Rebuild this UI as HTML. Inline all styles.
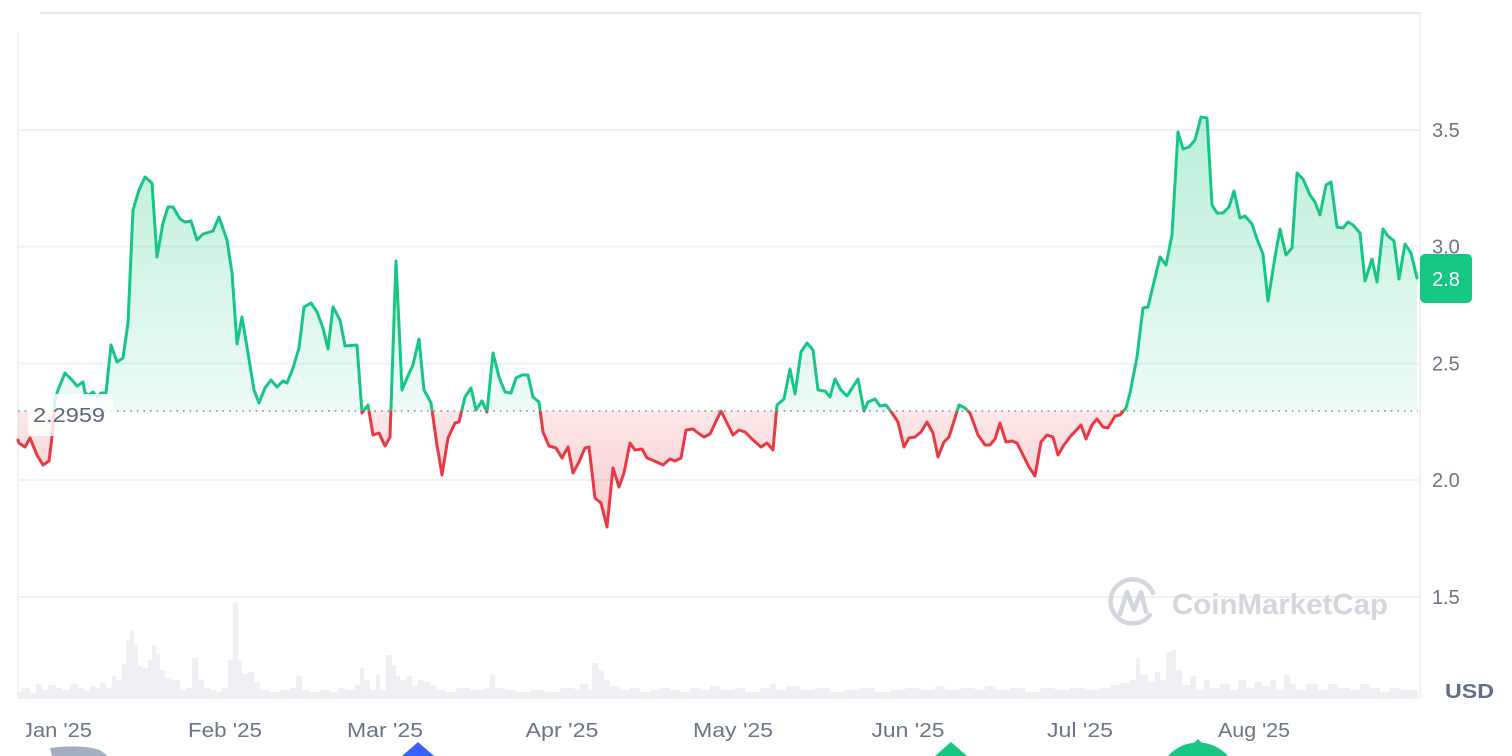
<!DOCTYPE html>
<html><head><meta charset="utf-8"><style>
html,body{margin:0;padding:0;background:#fff;width:1512px;height:756px;overflow:hidden;}
svg{display:block;font-family:"Liberation Sans",sans-serif;}
</style></head><body>
<svg width="1512" height="756" viewBox="0 0 1512 756" xmlns="http://www.w3.org/2000/svg">
<defs>
<linearGradient id="gg" gradientUnits="userSpaceOnUse" x1="0" y1="117" x2="0" y2="411">
<stop offset="0" stop-color="#16c784" stop-opacity="0.30"/>
<stop offset="1" stop-color="#16c784" stop-opacity="0.07"/>
</linearGradient>
<linearGradient id="rg" gradientUnits="userSpaceOnUse" x1="0" y1="411" x2="0" y2="527">
<stop offset="0" stop-color="#ea3943" stop-opacity="0.12"/>
<stop offset="1" stop-color="#ea3943" stop-opacity="0.26"/>
</linearGradient>
<clipPath id="top"><rect x="0" y="0" width="1512" height="410.9"/></clipPath>
<clipPath id="bot"><rect x="0" y="410.9" width="1512" height="345"/></clipPath>
<clipPath id="lab"><rect x="26" y="700" width="1480" height="56"/></clipPath>
<clipPath id="all"><rect x="0" y="0" width="1512" height="756"/></clipPath>
</defs>
<g clip-path="url(#all)">
<!-- frame lines -->
<line x1="40" y1="13" x2="1420" y2="13" stroke="#e6e8ec" stroke-width="2"/>
<line x1="18" y1="32" x2="18" y2="699" stroke="#f2f3f5" stroke-width="2"/>
<line x1="1420" y1="13" x2="1420" y2="699" stroke="#eff2f5" stroke-width="2"/>

<!-- grid -->
<g stroke="#eff2f5" stroke-width="2">
<line x1="18" y1="130" x2="1420" y2="130"/>
<line x1="18" y1="246.5" x2="1420" y2="246.5"/>
<line x1="18" y1="363.5" x2="1420" y2="363.5"/>
<line x1="18" y1="480" x2="1420" y2="480"/>
<line x1="18" y1="597" x2="1420" y2="597"/>
</g>

<!-- volume -->
<path fill="#eef0f3" d="M18,699 V692 H22 V688 H30 V693 H36 V684 H42 V690 H48 V685 H56 V688 H62 V690 H70 V684 H78 V688 H84 V691 H90 V686 H96 V688 H100 V683 H106 V688 H112 V676 H116 V680 H122 V664 H126 V640 H130 V630 H134 V645 H138 V666 H143 V668 H148 V660 H152 V645 H156 V654 H160 V670 H165 V678 H172 V680 H180 V690 H186 V688 H192 V658 H198 V680 H204 V688 H210 V690 H216 V692 H222 V688 H228 V660 H233 V603 H238 V660 H242 V674 H248 V672 H254 V682 H260 V690 H270 V692 H280 V690 H290 V688 H296 V676 H302 V690 H310 V692 H320 V690 H330 V692 H338 V688 H345 V690 H355 V685 H360 V668 H364 V680 H370 V690 H376 V675 H380 V690 H386 V655 H392 V665 H396 V676 H400 V680 H406 V676 H412 V686 H418 V680 H424 V682 H430 V685 H436 V690 H446 V692 H456 V688 H470 V690 H485 V688 H490 V675 H495 V688 H505 V690 H515 V692 H530 V690 H545 V692 H560 V688 H575 V690 H580 V684 H588 V690 H592 V663 H598 V670 H604 V680 H610 V686 H620 V690 H630 V688 H640 V692 H650 V690 H660 V688 H670 V690 H680 V692 H690 V688 H700 V690 H710 V686 H720 V690 H735 V688 H745 V692 H760 V688 H770 V684 H776 V690 H786 V686 H800 V690 H815 V688 H830 V692 H845 V690 H860 V688 H875 V692 H890 V690 H905 V688 H920 V690 H935 V686 H945 V690 H960 V688 H975 V690 H985 V686 H995 V690 H1010 V688 H1025 V692 H1040 V688 H1055 V690 H1070 V688 H1085 V690 H1100 V688 H1110 V685 H1120 V683 H1130 V680 H1136 V658 H1140 V675 H1148 V682 H1155 V672 H1160 V680 H1166 V652 H1172 V650 H1176 V670 H1182 V685 H1190 V676 H1196 V690 H1204 V680 H1210 V688 H1220 V684 H1230 V690 H1238 V680 H1246 V688 H1254 V682 H1262 V686 H1270 V680 H1276 V690 H1284 V675 H1290 V684 H1296 V690 H1306 V684 H1318 V690 H1328 V684 H1338 V688 H1350 V690 H1360 V684 H1370 V688 H1380 V692 H1390 V688 H1400 V690 H1418 V699 Z"/>

<!-- watermark -->
<path d="M1150,615 A22,22 0 1 1 1153,593" fill="none" stroke="#d3d6df" stroke-width="4.5" stroke-linecap="round"/>
<path d="M1120,614 L1127,592 L1134,610 L1141,592 L1146,612" fill="none" stroke="#d3d6df" stroke-width="4.5" stroke-linejoin="round" stroke-linecap="round"/>
<text x="1172" y="614" font-size="29" font-weight="bold" fill="#d3d6df" textLength="216" lengthAdjust="spacingAndGlyphs">CoinMarketCap</text>

<!-- price area -->
<path id="area" clip-path="url(#top)" fill="url(#gg)" d="M18,410.9 L18,440 19,443 25,447 30,438 37,455 43,465 49,461 52,437 55,400 58,390 65,373 72,380 77,386 83,382 85,393 89,395 93,392 97,397 101,393 106,393 111,345 117,362 123,358 128,323 133,210 139,190 145,177 152,183 157,257 163,223 168,207 173,207 180,219 185,222 191,221 197,240 203,234 213,231 219,217 227,240 232,273 237,344 242,317 248,353 254,390 259,403 265,388 271,380 277,387 283,381 287,383 293,368 299,348 304,307 311,303 317,312 323,328 328,349 333,307 340,320 345,346 357,345 362,413 368,405 373,435 379,433 385,446 390,437 396,261 402,390 407,378 413,365 419,339 424,390 431,403 437,445 442,475 448,438 455,423 459,422 465,397 471,388 476,410 482,401 487,412 493,353 499,377 505,392 511,393 516,378 522,375 528,375 533,397 539,402 543,432 549,446 556,448 562,458 568,447 573,473 579,462 585,448 589,447 595,498 601,503 607,527 613,468 619,487 624,473 630,443 635,450 642,449 647,458 657,462 663,465 670,459 675,461 681,458 686,430 693,429 698,433 704,437 710,434 721,411 727,423 733,435 739,430 745,432 753,440 761,447 767,443 773,450 777,405 784,399 790,369 795,394 801,352 807,343 813,350 818,390 825,391 830,397 835,379 841,390 847,396 858,379 864,411 868,402 875,399 880,406 886,405 892,413 898,422 904,447 909,438 915,437 921,432 927,422 933,433 938,457 944,442 949,437 959,405 965,408 970,413 978,435 985,445 990,445 995,439 1000,423 1006,442 1012,441 1017,443 1023,455 1029,467 1035,476 1041,442 1047,435 1053,437 1058,455 1064,445 1070,437 1081,425 1086,439 1092,425 1097,419 1103,427 1108,428 1115,416 1120,415 1126,408 1130,393 1137,357 1143,308 1148,307 1160,257 1166,265 1172,235 1178,132 1183,149 1189,147 1195,140 1201,117 1207,118 1212,205 1217,213 1223,213 1229,207 1234,191 1240,218 1245,216 1252,224 1257,239 1263,254 1268,301 1275,257 1280,229 1286,255 1292,248 1297,173 1303,179 1310,195 1315,202 1320,215 1326,185 1331,182 1337,227 1343,228 1348,222 1353,225 1360,233 1365,281 1372,259 1377,282 1383,229 1388,236 1394,241 1399,279 1405,244 1411,253 1417,278 L1417,410.9 Z"/>
<path clip-path="url(#bot)" fill="url(#rg)" d="M18,410.9 L18,440 19,443 25,447 30,438 37,455 43,465 49,461 52,437 55,400 58,390 65,373 72,380 77,386 83,382 85,393 89,395 93,392 97,397 101,393 106,393 111,345 117,362 123,358 128,323 133,210 139,190 145,177 152,183 157,257 163,223 168,207 173,207 180,219 185,222 191,221 197,240 203,234 213,231 219,217 227,240 232,273 237,344 242,317 248,353 254,390 259,403 265,388 271,380 277,387 283,381 287,383 293,368 299,348 304,307 311,303 317,312 323,328 328,349 333,307 340,320 345,346 357,345 362,413 368,405 373,435 379,433 385,446 390,437 396,261 402,390 407,378 413,365 419,339 424,390 431,403 437,445 442,475 448,438 455,423 459,422 465,397 471,388 476,410 482,401 487,412 493,353 499,377 505,392 511,393 516,378 522,375 528,375 533,397 539,402 543,432 549,446 556,448 562,458 568,447 573,473 579,462 585,448 589,447 595,498 601,503 607,527 613,468 619,487 624,473 630,443 635,450 642,449 647,458 657,462 663,465 670,459 675,461 681,458 686,430 693,429 698,433 704,437 710,434 721,411 727,423 733,435 739,430 745,432 753,440 761,447 767,443 773,450 777,405 784,399 790,369 795,394 801,352 807,343 813,350 818,390 825,391 830,397 835,379 841,390 847,396 858,379 864,411 868,402 875,399 880,406 886,405 892,413 898,422 904,447 909,438 915,437 921,432 927,422 933,433 938,457 944,442 949,437 959,405 965,408 970,413 978,435 985,445 990,445 995,439 1000,423 1006,442 1012,441 1017,443 1023,455 1029,467 1035,476 1041,442 1047,435 1053,437 1058,455 1064,445 1070,437 1081,425 1086,439 1092,425 1097,419 1103,427 1108,428 1115,416 1120,415 1126,408 1130,393 1137,357 1143,308 1148,307 1160,257 1166,265 1172,235 1178,132 1183,149 1189,147 1195,140 1201,117 1207,118 1212,205 1217,213 1223,213 1229,207 1234,191 1240,218 1245,216 1252,224 1257,239 1263,254 1268,301 1275,257 1280,229 1286,255 1292,248 1297,173 1303,179 1310,195 1315,202 1320,215 1326,185 1331,182 1337,227 1343,228 1348,222 1353,225 1360,233 1365,281 1372,259 1377,282 1383,229 1388,236 1394,241 1399,279 1405,244 1411,253 1417,278 L1417,410.9 Z"/>

<!-- baseline -->
<line x1="18" y1="410.9" x2="1418" y2="410.9" stroke="#8a93a4" stroke-width="1.6" stroke-dasharray="1.6,5"/>

<!-- line stroke -->
<polyline fill="none" stroke-width="3" stroke-linejoin="round" stroke-linecap="round" stroke="#16c784" clip-path="url(#top)" points="18,440 19,443 25,447 30,438 37,455 43,465 49,461 52,437 55,400 58,390 65,373 72,380 77,386 83,382 85,393 89,395 93,392 97,397 101,393 106,393 111,345 117,362 123,358 128,323 133,210 139,190 145,177 152,183 157,257 163,223 168,207 173,207 180,219 185,222 191,221 197,240 203,234 213,231 219,217 227,240 232,273 237,344 242,317 248,353 254,390 259,403 265,388 271,380 277,387 283,381 287,383 293,368 299,348 304,307 311,303 317,312 323,328 328,349 333,307 340,320 345,346 357,345 362,413 368,405 373,435 379,433 385,446 390,437 396,261 402,390 407,378 413,365 419,339 424,390 431,403 437,445 442,475 448,438 455,423 459,422 465,397 471,388 476,410 482,401 487,412 493,353 499,377 505,392 511,393 516,378 522,375 528,375 533,397 539,402 543,432 549,446 556,448 562,458 568,447 573,473 579,462 585,448 589,447 595,498 601,503 607,527 613,468 619,487 624,473 630,443 635,450 642,449 647,458 657,462 663,465 670,459 675,461 681,458 686,430 693,429 698,433 704,437 710,434 721,411 727,423 733,435 739,430 745,432 753,440 761,447 767,443 773,450 777,405 784,399 790,369 795,394 801,352 807,343 813,350 818,390 825,391 830,397 835,379 841,390 847,396 858,379 864,411 868,402 875,399 880,406 886,405 892,413 898,422 904,447 909,438 915,437 921,432 927,422 933,433 938,457 944,442 949,437 959,405 965,408 970,413 978,435 985,445 990,445 995,439 1000,423 1006,442 1012,441 1017,443 1023,455 1029,467 1035,476 1041,442 1047,435 1053,437 1058,455 1064,445 1070,437 1081,425 1086,439 1092,425 1097,419 1103,427 1108,428 1115,416 1120,415 1126,408 1130,393 1137,357 1143,308 1148,307 1160,257 1166,265 1172,235 1178,132 1183,149 1189,147 1195,140 1201,117 1207,118 1212,205 1217,213 1223,213 1229,207 1234,191 1240,218 1245,216 1252,224 1257,239 1263,254 1268,301 1275,257 1280,229 1286,255 1292,248 1297,173 1303,179 1310,195 1315,202 1320,215 1326,185 1331,182 1337,227 1343,228 1348,222 1353,225 1360,233 1365,281 1372,259 1377,282 1383,229 1388,236 1394,241 1399,279 1405,244 1411,253 1417,278"/>
<polyline fill="none" stroke-width="3" stroke-linejoin="round" stroke-linecap="round" stroke="#ea3943" clip-path="url(#bot)" points="18,440 19,443 25,447 30,438 37,455 43,465 49,461 52,437 55,400 58,390 65,373 72,380 77,386 83,382 85,393 89,395 93,392 97,397 101,393 106,393 111,345 117,362 123,358 128,323 133,210 139,190 145,177 152,183 157,257 163,223 168,207 173,207 180,219 185,222 191,221 197,240 203,234 213,231 219,217 227,240 232,273 237,344 242,317 248,353 254,390 259,403 265,388 271,380 277,387 283,381 287,383 293,368 299,348 304,307 311,303 317,312 323,328 328,349 333,307 340,320 345,346 357,345 362,413 368,405 373,435 379,433 385,446 390,437 396,261 402,390 407,378 413,365 419,339 424,390 431,403 437,445 442,475 448,438 455,423 459,422 465,397 471,388 476,410 482,401 487,412 493,353 499,377 505,392 511,393 516,378 522,375 528,375 533,397 539,402 543,432 549,446 556,448 562,458 568,447 573,473 579,462 585,448 589,447 595,498 601,503 607,527 613,468 619,487 624,473 630,443 635,450 642,449 647,458 657,462 663,465 670,459 675,461 681,458 686,430 693,429 698,433 704,437 710,434 721,411 727,423 733,435 739,430 745,432 753,440 761,447 767,443 773,450 777,405 784,399 790,369 795,394 801,352 807,343 813,350 818,390 825,391 830,397 835,379 841,390 847,396 858,379 864,411 868,402 875,399 880,406 886,405 892,413 898,422 904,447 909,438 915,437 921,432 927,422 933,433 938,457 944,442 949,437 959,405 965,408 970,413 978,435 985,445 990,445 995,439 1000,423 1006,442 1012,441 1017,443 1023,455 1029,467 1035,476 1041,442 1047,435 1053,437 1058,455 1064,445 1070,437 1081,425 1086,439 1092,425 1097,419 1103,427 1108,428 1115,416 1120,415 1126,408 1130,393 1137,357 1143,308 1148,307 1160,257 1166,265 1172,235 1178,132 1183,149 1189,147 1195,140 1201,117 1207,118 1212,205 1217,213 1223,213 1229,207 1234,191 1240,218 1245,216 1252,224 1257,239 1263,254 1268,301 1275,257 1280,229 1286,255 1292,248 1297,173 1303,179 1310,195 1315,202 1320,215 1326,185 1331,182 1337,227 1343,228 1348,222 1353,225 1360,233 1365,281 1372,259 1377,282 1383,229 1388,236 1394,241 1399,279 1405,244 1411,253 1417,278"/>

<!-- baseline label -->
<rect x="28" y="394" width="85" height="42" rx="4" fill="#ffffff" fill-opacity="0.82"/>
<text x="33" y="422" font-size="20" fill="#58667e" textLength="72" lengthAdjust="spacingAndGlyphs">2.2959</text>

<!-- y axis labels -->
<g font-size="20" fill="#6b7589">
<text x="1432" y="137">3.5</text>
<text x="1432" y="253.5">3.0</text>
<text x="1432" y="370.5">2.5</text>
<text x="1432" y="487">2.0</text>
<text x="1432" y="604">1.5</text>
</g>
<text x="1445" y="698" font-size="20" font-weight="bold" fill="#616e85" textLength="49" lengthAdjust="spacingAndGlyphs">USD</text>

<!-- current price badge -->
<rect x="1420" y="254" width="52" height="49" rx="5" fill="#16c784"/>
<text x="1446" y="286" font-size="20" fill="#ffffff" text-anchor="middle">2.8</text>

<!-- x labels -->
<g font-size="20" fill="#6b7589" text-anchor="middle" clip-path="url(#lab)">
<text x="57" y="737" textLength="70" lengthAdjust="spacingAndGlyphs">Jan '25</text>
<text x="225" y="737" textLength="74" lengthAdjust="spacingAndGlyphs">Feb '25</text>
<text x="385" y="737" textLength="76" lengthAdjust="spacingAndGlyphs">Mar '25</text>
<text x="562" y="737" textLength="73" lengthAdjust="spacingAndGlyphs">Apr '25</text>
<text x="733" y="737" textLength="80" lengthAdjust="spacingAndGlyphs">May '25</text>
<text x="908" y="737" textLength="73" lengthAdjust="spacingAndGlyphs">Jun '25</text>
<text x="1080" y="737" textLength="66" lengthAdjust="spacingAndGlyphs">Jul '25</text>
<text x="1254" y="737" textLength="72" lengthAdjust="spacingAndGlyphs">Aug '25</text>
</g>

<!-- bottom markers -->
<path d="M50,748 Q80,744 100,750 L108,756 L52,756 Z" fill="#a5aec0"/>
<path d="M418,742 L402,756 L434,756 Z" fill="#3861fb"/>
<path d="M951,742 L935,756 L967,756 Z" fill="#16c784"/>
<path d="M1198,739 L1192,745 L1204,745 Z" fill="#16c784"/>
<path d="M1168,756 A40,40 0 0 1 1228,756 Z" fill="#16c784"/>
</g>
</svg>
</body></html>
